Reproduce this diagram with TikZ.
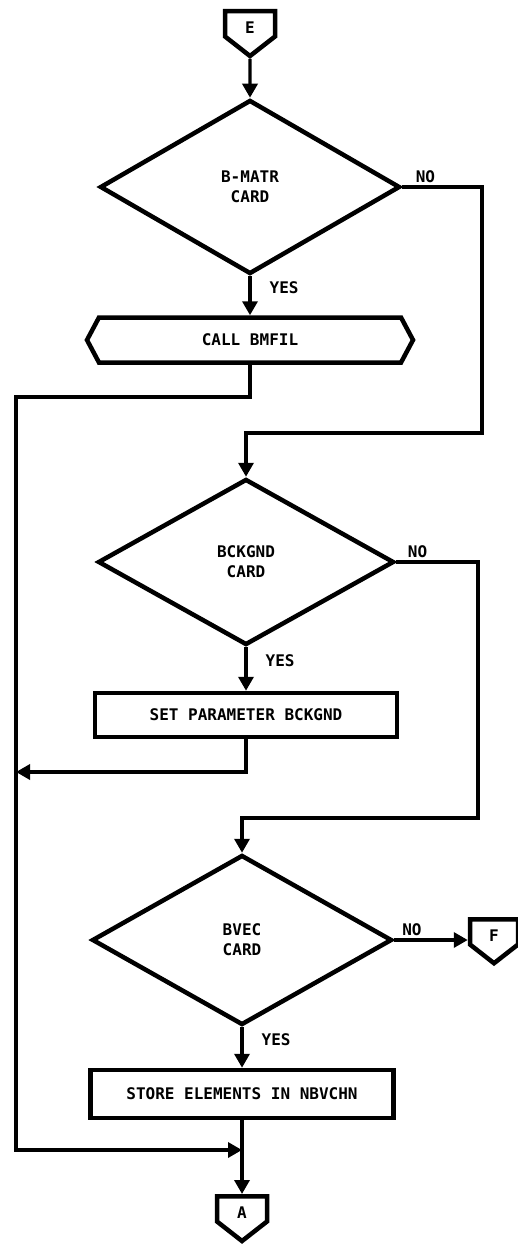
\documentclass[tikz,border=0pt]{standalone}
\usepackage{fontspec}
\setmonofont{DejaVu Sans Mono}
\usetikzlibrary{arrows.meta,shapes.geometric,shapes.symbols}
\tikzset{
  lbl/.style={font=\ttfamily\bfseries\fontsize{16}{20}\selectfont},
  tag/.style={lbl,inner sep=1pt},
  dec/.style={diamond,draw,line width=4.5pt,inner sep=0pt,align=center,lbl},
  proc/.style={rectangle,draw,line width=4.5pt,inner sep=0pt,lbl},
  sub/.style={signal,signal to=west and east,signal pointer angle=124,draw,line width=4.5pt,inner sep=0pt,lbl},
  conn/.style={signal,signal to=south,signal pointer angle=104,draw,line width=4.5pt,inner sep=0pt,lbl,
    text height=19pt,text depth=0pt,minimum width=50pt,minimum height=29pt},
  ln/.style={line width=3.4pt},
  ar/.style={ln,-{Triangle[length=14pt,width=15pt]}},
}

\begin{document}
\begin{tikzpicture}[x=1pt,y=-1pt]
  \useasboundingbox (0,0) rectangle (518,1246);

  \node[conn,anchor=north] (e) at (250,9) {E};
  \node[dec,minimum width=300pt,minimum height=174pt] (d1) at (250,187) {B-MATR\\CARD};
  \node[sub,minimum width=326pt,minimum height=45pt] (call) at (250,340) {CALL BMFIL};
  \node[dec,minimum width=296pt,minimum height=166pt] (d2) at (246,562) {BCKGND\\CARD};
  \node[proc,minimum width=302pt,minimum height=44pt] (box2) at (246,715) {SET PARAMETER BCKGND};
  \node[dec,minimum width=300pt,minimum height=170pt] (d3) at (242,940) {BVEC\\CARD};
  \node[conn,anchor=north,minimum width=48pt] (f) at (494,917) {F};
  \node[proc,minimum width=303pt,minimum height=48pt] (box3) at (242,1094) {STORE ELEMENTS IN NBVCHN};
  \node[conn,anchor=north] (a) at (242,1194) {A};

  \coordinate (lj) at (16,772);
  \coordinate (m) at (242,1150);

  \draw[ar] (e) -- (d1.north);
  \draw[ar] (d1.south) -- node[tag,right=17pt,pos=0.3]{YES} (call.north);
  \draw[ar] (d1.east) -- node[tag,above=2pt,pos=0.29]{NO} (482,187) -- (482,433) -- (246,433) -- (d2.north);
  \draw[ar] (call.south) -- (250,397) -- (16,397) -- (16,1150) -- (m);

  \draw[ar] (d2.south) -- node[tag,right=17pt,pos=0.3]{YES} (box2.north);
  \draw[ar] (d2.east) -- node[tag,above=2pt,pos=0.26]{NO} (478,562) -- (478,818) -- (242,818) -- (d3.north);
  \draw[ar] (box2.south) -- (246,772) -- (lj);

  \draw[ar] (d3.south) -- node[tag,right=17pt,pos=0.3]{YES} (box3.north);
  \draw[ar] (d3.east) -- node[tag,above=2pt,pos=0.24]{NO} (f.west |- d3.east);
  \draw[ar] (box3.south) -- (a.north);
\end{tikzpicture}
\end{document}
